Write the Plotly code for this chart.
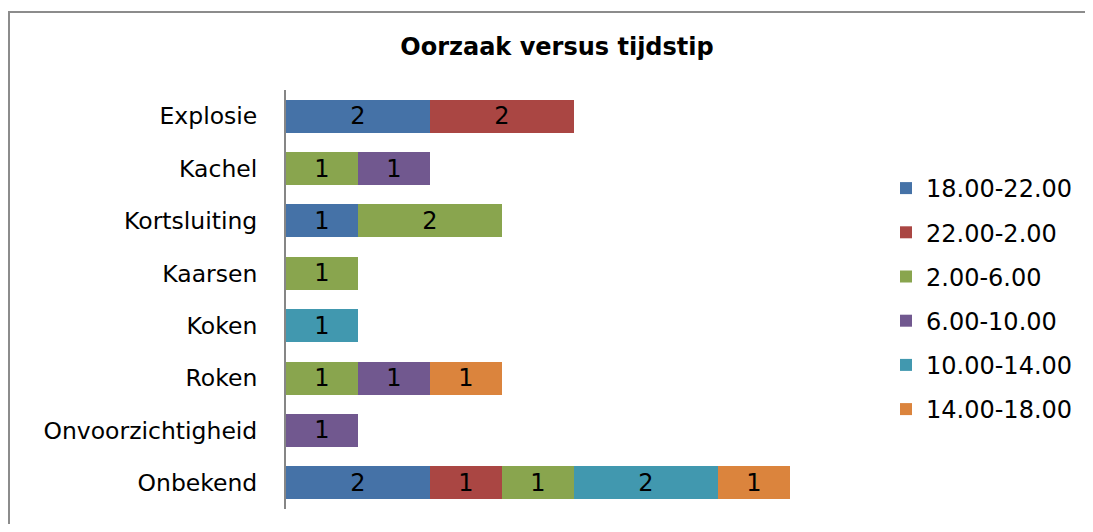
import plotly.graph_objects as go

categories = ["Explosie", "Kachel", "Kortsluiting", "Kaarsen", "Koken", "Roken", "Onvoorzichtigheid", "Onbekend"]
series_names = ["18.00-22.00", "22.00-2.00", "2.00-6.00", "6.00-10.00", "10.00-14.00", "14.00-18.00"]
s_18_22 = [2, None, 1, None, None, None, None, 2]
s_22_2 = [2, None, None, None, None, None, None, 1]
s_2_6 = [None, 1, 2, 1, None, 1, None, 1]
s_6_10 = [None, 1, None, None, None, 1, 1, None]
s_10_14 = [None, None, None, None, 1, None, None, 2]
s_14_18 = [None, None, None, None, None, 1, None, 1]
series_values = [s_18_22, s_22_2, s_2_6, s_6_10, s_10_14, s_14_18]
colors = ["#4572A7", "#AA4643", "#89A54E", "#71588F", "#4198AF", "#DB843D"]

FONT = "DejaVu Sans, Verdana, sans-serif"

fig = go.Figure()
for i, (name, vals) in enumerate(zip(series_names, series_values)):
    fig.add_trace(go.Bar(
        name=name, y=categories, x=vals, orientation="h",
        marker=dict(color=colors[i], line=dict(width=0)),
        text=[("" if v is None else str(v)) for v in vals],
        textposition="inside", insidetextanchor="middle",
        textangle=0, constraintext="none",
        textfont=dict(color="black", size=24, family=FONT),
        legendgroup=name,
        hoverinfo="skip",
    ))

# page body has an 8px margin; figure coordinates = page coordinates - 8
W, H = 1077, 516
L, T = 278, 82
PR, PB = 854, 501
R, B = W - PR, H - PB
pw, ph = PR - L, PB - T

fig.update_layout(
    width=W, height=H,
    barmode="stack", bargap=0.37,
    plot_bgcolor="white", paper_bgcolor="white",
    margin=dict(l=L, r=R, t=T, b=B, autoexpand=False),
    title=dict(text="<b>Oorzaak versus tijdstip</b>", x=549 / W, xref="container",
               y=1 - 39 / H, yref="container", yanchor="middle", xanchor="center",
               font=dict(family=FONT, size=24, color="black")),
    font=dict(family=FONT, color="black"),
    xaxis=dict(range=[0, 8], showgrid=False, zeroline=False, showline=False,
               showticklabels=False, ticks=""),
    yaxis=dict(autorange="reversed", showline=True, linecolor="#868686", linewidth=2,
               ticks="", ticklabelstandoff=22, tickfont=dict(size=23.5, family=FONT, color="black"),
               showgrid=False, zeroline=False),
    legend=dict(x=(878 - L) / pw, xanchor="left", y=(PB - 291) / ph, yanchor="middle",
                font=dict(size=24, family=FONT, color="black"),
                tracegroupgap=10, traceorder="grouped", itemclick=False),
    showlegend=True,
    shapes=[dict(type="rect", xref="paper", yref="paper",
                 x0=(1 - L) / pw, x1=(W + 30 - L) / pw,
                 y0=(PB - (H + 30)) / ph, y1=(PB - 4) / ph,
                 line=dict(color="#8c8c8c", width=2), fillcolor="rgba(0,0,0,0)", layer="below")],
)

fig.write_html("out.html")
